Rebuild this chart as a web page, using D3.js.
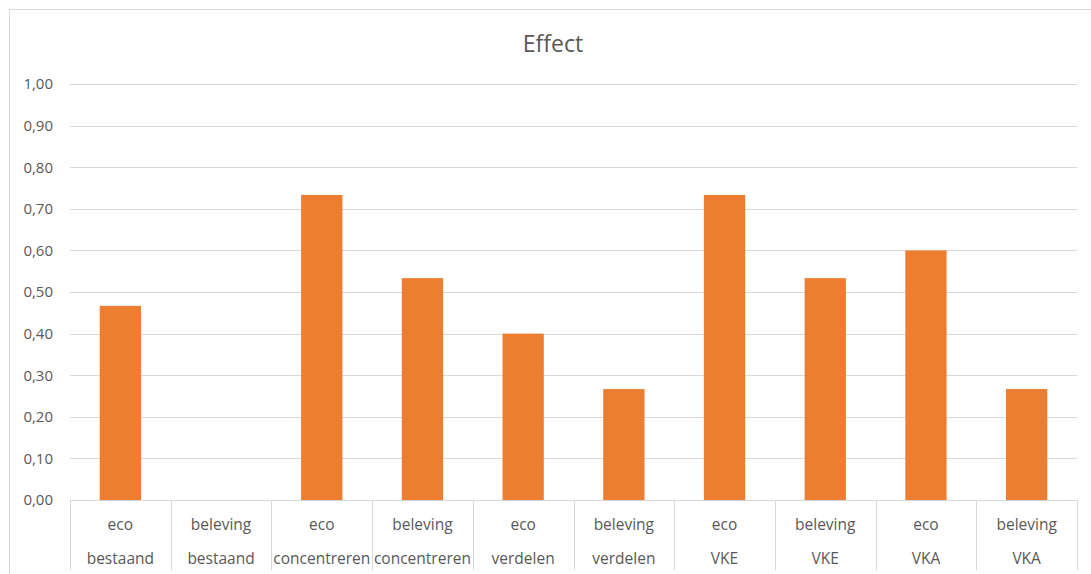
<!DOCTYPE html>
<html>
<head>
<meta charset="utf-8">
<script src="https://cdn.jsdelivr.net/npm/d3@7"></script>
<style>
  html, body { margin: 0; padding: 0; background: #fff; }
  svg { display: block; }
  text { font-family: "Open Sans", "Noto Sans", sans-serif; fill: #595959; }
</style>
</head>
<body>
<svg id="chart" width="1091" height="574"></svg>
<script>
// Measures (upper label row) and variants (lower label row)
const measures = ["eco", "beleving", "eco", "beleving", "eco", "beleving", "eco", "beleving", "eco", "beleving"];
const variants = ["bestaand", "bestaand", "concentreren", "concentreren", "verdelen", "verdelen", "VKE", "VKE", "VKA", "VKA"];
const effect = [0.4667, 0, 0.7333, 0.5333, 0.4, 0.2667, 0.7333, 0.5333, 0.6, 0.2667];
const yTicks = [0, 0.1, 0.2, 0.3, 0.4, 0.5, 0.6, 0.7, 0.8, 0.9, 1.0];
const title = "Effect";

const svg = d3.select("#chart");
const W = 1091, H = 574;
const margin = { left: 70, right: 14, top: 84, bottom: 74 };
const plotW = W - margin.left - margin.right;
const plotH = H - margin.top - margin.bottom;

// chart frame
svg.append("rect")
  .attr("x", 9.5).attr("y", 9.5)
  .attr("width", W).attr("height", H)
  .attr("fill", "#fff").attr("stroke", "#d9d9d9").attr("stroke-width", 1);

const g = svg.append("g").attr("transform", `translate(${margin.left},${margin.top})`);

const keys = d3.range(effect.length);
const x = d3.scaleBand().domain(keys).range([0, plotW]).paddingInner(0).paddingOuter(0);
const y = d3.scaleLinear().domain([0, 1]).range([plotH, 0]);

// horizontal gridlines
g.append("g").selectAll("line").data(yTicks.slice(1)).join("line")
  .attr("x1", 0).attr("x2", plotW)
  .attr("y1", d => Math.round(y(d)) + 0.5).attr("y2", d => Math.round(y(d)) + 0.5)
  .attr("stroke", "#d9d9d9").attr("stroke-width", 1);

// y-axis labels
const fmt = d => d3.format(".2f")(d).replace(".", ",");
const yAxis = d3.axisLeft(y).tickValues(yTicks).tickFormat(fmt).tickSize(0).tickPadding(17);
const ya = g.append("g").call(yAxis);
ya.select(".domain").remove();
ya.selectAll("text")
  .attr("font-family", "\"Open Sans\", sans-serif")
  .attr("font-size", 15).attr("fill", "#595959");

// bars
const barW = x.bandwidth() * 0.41;
g.append("g").selectAll("rect").data(keys).join("rect")
  .attr("x", i => x(i) + (x.bandwidth() - barW) / 2)
  .attr("width", barW)
  .attr("y", i => y(effect[i]))
  .attr("height", i => y(0) - y(effect[i]))
  .attr("fill", "#ed7d31");

// category axis: baseline and separators
g.append("line")
  .attr("x1", 0).attr("x2", plotW)
  .attr("y1", plotH + 0.5).attr("y2", plotH + 0.5)
  .attr("stroke", "#d9d9d9");
const seps = keys.map(i => x(i)).concat([plotW]);
g.append("g").selectAll("line").data(seps).join("line")
  .attr("x1", d => Math.round(d) + 0.5).attr("x2", d => Math.round(d) + 0.5)
  .attr("y1", plotH).attr("y2", plotH + 70)
  .attr("stroke", "#d9d9d9");

// two-level category labels
const lbl = g.append("g").attr("text-anchor", "middle").attr("font-size", 15.5);
lbl.selectAll("text.m").data(keys).join("text").attr("class", "m")
  .attr("x", i => x(i) + x.bandwidth() / 2)
  .attr("y", plotH + 30)
  .text(i => measures[i]);
lbl.selectAll("text.v").data(keys).join("text").attr("class", "v")
  .attr("x", i => x(i) + x.bandwidth() / 2)
  .attr("y", plotH + 64)
  .text(i => variants[i]);

// title
svg.append("text")
  .attr("x", 553).attr("y", 52)
  .attr("text-anchor", "middle")
  .attr("font-size", 23)
  .text(title);
</script>
</body>
</html>
